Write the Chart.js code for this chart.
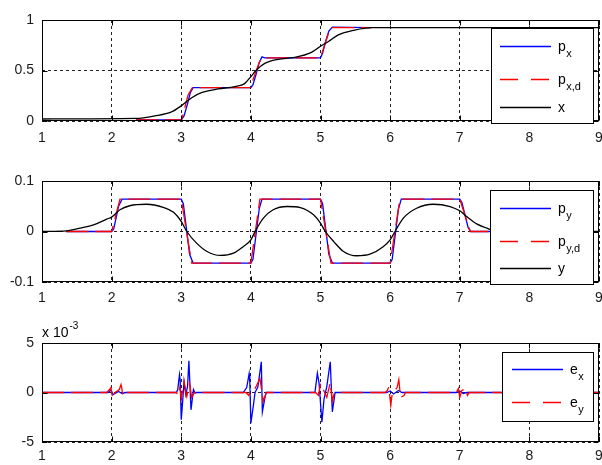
<!DOCTYPE html>
<html lang="en">
<head>
<meta charset="UTF-8">
<title>Position tracking</title>
<script src="https://cdn.jsdelivr.net/npm/chart.js"></script>
<style>
    body { margin: 0; background: #fff; }
    canvas { position: absolute; left: 0; }
</style>
</head>
<body>
<canvas id="chartX" width="602" height="155" style="top:0"></canvas>
<canvas id="chartY" width="602" height="155" style="top:155px"></canvas>
<canvas id="chartE" width="602" height="155" style="top:310px"></canvas>
<script>
// ---- top panel: x position ----
const pxT  = [2.35, 3.0, 3.04, 3.09, 3.13, 3.17, 4.0, 4.03, 4.07, 4.12, 4.16, 4.2, 5.0, 5.03, 5.07, 5.12, 5.17, 5.73];
const pxV  = [0.01, 0.01, 0.05, 0.17, 0.28, 0.33, 0.33, 0.36, 0.45, 0.58, 0.635, 0.625, 0.625, 0.67, 0.78, 0.89, 0.93, 0.925];
const pxdT = [2.35, 3.0, 3.02, 3.1, 3.16, 3.99, 4.01, 4.12, 4.16, 5.0, 5.02, 5.12, 5.16, 5.73];
const pxdV = [0.01, 0.01, 0.05, 0.26, 0.33, 0.33, 0.37, 0.58, 0.625, 0.625, 0.67, 0.88, 0.925, 0.925];
const xT   = [1, 2.35, 2.62, 2.86, 3.0, 3.15, 3.29, 3.53, 3.77, 3.91, 4.0, 4.08, 4.2, 4.39, 4.63, 4.87, 5.0, 5.11, 5.25, 5.49, 5.73, 6.2, 9];
const xV   = [0.02, 0.025, 0.05, 0.09, 0.15, 0.23, 0.28, 0.317, 0.34, 0.37, 0.44, 0.505, 0.57, 0.61, 0.63, 0.68, 0.74, 0.785, 0.85, 0.90, 0.924, 0.925, 0.925];

// ---- middle panel: y position ----
const pyT  = [1.35, 2.0, 2.03, 2.1, 2.15, 3.0, 3.03, 3.12, 3.17, 4.0, 4.03, 4.12, 4.16, 5.0, 5.03, 5.12, 5.17, 6.0, 6.03, 6.12, 6.16, 7.0, 7.03, 7.12, 7.16, 7.8];
const pyV  = [0, 0, 0.005, 0.05, 0.064, 0.064, 0.055, -0.045, -0.0625, -0.0625, -0.055, 0.045, 0.064, 0.064, 0.055, -0.045, -0.0625, -0.0625, -0.055, 0.045, 0.064, 0.064, 0.058, 0.008, 0, 0];
const pydT = [1.35, 2.0, 2.12, 3.0, 3.15, 4.0, 4.13, 5.0, 5.15, 6.0, 6.14, 7.0, 7.15, 7.8];
const pydV = [0, 0, 0.064, 0.064, -0.0625, -0.0625, 0.064, 0.064, -0.0625, -0.0625, 0.064, 0.064, 0, 0];
const yT   = [1, 1.35, 1.55, 1.74, 1.93, 2.0, 2.12, 2.26, 2.5, 2.74, 2.89, 3.0, 3.08, 3.22, 3.37, 3.56, 3.75, 3.89, 4.0, 4.06, 4.18, 4.32, 4.52, 4.71, 4.9, 5.0, 5.07, 5.19, 5.33, 5.52, 5.71, 5.9, 6.0, 6.07, 6.19, 6.38, 6.62, 6.86, 7.0, 7.1, 7.25, 7.39, 7.46, 7.8, 9];
const yV   = [0, 0.0013, 0.0067, 0.013, 0.0245, 0.0285, 0.043, 0.051, 0.054, 0.048, 0.038, 0.02, 0, -0.023, -0.0395, -0.0474, -0.043, -0.03, -0.0165, 0, 0.0265, 0.043, 0.0495, 0.0475, 0.033, 0.0165, 0, -0.02, -0.0395, -0.048, -0.045, -0.03, -0.0165, 0, 0.0265, 0.046, 0.054, 0.0495, 0.041, 0.0297, 0.0146, 0.0067, 0.003, 0.0005, 0];

// ---- bottom panel: tracking errors (units of 1e-3) ----
const exT = [1, 1.95, 1.99, 2.02, 2.1, 2.15, 2.2, 2.93, 2.95, 2.96, 2.975, 2.985, 3.0, 3.015, 3.04, 3.065, 3.09, 3.11, 3.14, 3.175, 3.2, 3.22,
             3.89, 3.94, 3.975, 3.985, 4.0, 4.04, 4.06, 4.1, 4.15, 4.165, 4.2, 4.22,
             4.92, 4.955, 4.98, 5.02, 5.05, 5.09, 5.14, 5.17, 5.21, 5.95, 6.0, 6.05, 6.12, 6.17, 6.95, 7.0, 7.05, 7.1, 9];
const exV = [0, 0, 0.25, -0.2, 0.1, -0.1, 0, 0, 0.3, 0.95, 1.8, 1.2, -2.75, -1.4, 1.1, -0.2, 0.6, 3.2, -1.75, 0.3, -0.07, 0,
             0, 0.5, 1.9, 1.0, -3.1, -1.1, 0, 0.55, 3.1, -1.95, -0.6, 0,
             0, 1.95, 0.9, -3.0, -0.7, 0.6, 3.1, -1.95, 0, 0, 0.15, -0.15, 0.2, 0, 0, 0.15, -0.1, 0, 0];
const eyT = [1, 1.93, 1.97, 1.99, 2.015, 2.05, 2.11, 2.135, 2.145, 2.16, 2.19, 2.93, 2.96, 2.98, 3.0, 3.04, 3.08, 3.12, 3.15, 3.19,
             3.93, 3.97, 4.0, 4.06, 4.13, 4.18, 4.22, 4.93, 4.97, 5.0, 5.04, 5.09, 5.14, 5.17, 5.2,
             5.93, 5.96, 5.98, 6.01, 6.03, 6.1, 6.125, 6.15, 6.2, 6.22, 6.95, 6.98, 7.0, 7.03, 7.09, 7.11, 7.14, 9];
const eyV = [0, 0, 0.3, 0.5, -0.6, 0, 0.3, 0.8, 0.5, -0.3, 0, 0, -0.3, 0.5, -0.6, 1.1, -0.4, 0.9, -0.5, 0,
             0, -0.3, 0.3, 0.4, 1.4, -0.9, 0, 0, -0.3, 0.9, 0.3, -0.5, 1.0, -0.9, 0,
             0, 0.2, 0.55, -1.3, -0.1, 0.5, 1.3, -0.5, -0.3, 0, 0, 0.4, -0.5, 0.2, 0.4, -0.3, 0, 0];

const xTicks = { min: 1, max: 9, step: 1 };
const FONT = 'Liberation Sans, Arial, sans-serif';
const BLUE = '#0000ff', RED = '#ff0000', BLACK = '#000000';

function zip(t, v) {
    return t.map((x, i) => ({ x: x, y: v[i] }));
}

// legend box drawn inside the plot, matlab style
const boxLegend = {
    id: 'boxLegend',
    afterDraw(chart, args, o) {
        const ctx = chart.ctx;
        ctx.save();
        ctx.fillStyle = '#fff';
        ctx.fillRect(o.left, o.top, o.right - o.left, o.bottom - o.top);
        ctx.strokeStyle = '#000';
        ctx.lineWidth = 1;
        ctx.strokeRect(o.left + 0.5, o.top + 0.5, o.right - o.left, o.bottom - o.top);
        chart.data.datasets.forEach((ds, i) => {
            const y = o.rows[i] + 0.5;
            ctx.strokeStyle = ds.borderColor;
            ctx.lineWidth = ds.borderWidth;
            ctx.setLineDash(ds.legendDash || []);
            ctx.beginPath();
            ctx.moveTo(o.x0, y);
            ctx.lineTo(o.x1, y);
            ctx.stroke();
            ctx.setLineDash([]);
            const parts = ds.label.split('_');
            ctx.fillStyle = '#000';
            ctx.font = '14px ' + FONT;
            ctx.fillText(parts[0], o.textX, y + 4);
            if (parts[1]) {
                const w = ctx.measureText(parts[0]).width;
                ctx.font = '11px ' + FONT;
                ctx.fillText(parts[1], o.textX + w + 0.5, y + 10);
            }
        });
        if (o.exponent) {
            ctx.font = '14px ' + FONT;
            ctx.fillText('x 10', o.exponent.x, o.exponent.y);
            const w = ctx.measureText('x 10').width;
            ctx.font = '10px ' + FONT;
            ctx.fillText('-3', o.exponent.x + w + 1, o.exponent.y - 8);
        }
        ctx.restore();
    }
};

// closed axes box with inward tick marks
const axesBox = {
    id: 'axesBox',
    afterDatasetsDraw(chart) {
        const { ctx, chartArea: a, scales } = chart;
        const L = Math.round(a.left) + 0.5, R = Math.round(a.right) - 0.5;
        const T = Math.round(a.top) + 0.5, B = Math.round(a.bottom) - 0.5;
        ctx.save();
        ctx.strokeStyle = '#000';
        ctx.lineWidth = 1;
        ctx.beginPath();
        scales.x.ticks.forEach(t => {
            const p = Math.round(scales.x.getPixelForValue(t.value)) + 0.5;
            ctx.moveTo(p, B); ctx.lineTo(p, B - 5);
            ctx.moveTo(p, T); ctx.lineTo(p, T + 5);
        });
        scales.y.ticks.forEach(t => {
            const p = Math.round(scales.y.getPixelForValue(t.value)) + 0.5;
            ctx.moveTo(L, p); ctx.lineTo(L + 5, p);
            ctx.moveTo(R, p); ctx.lineTo(R - 5, p);
        });
        ctx.stroke();
        ctx.strokeRect(L, T, R - L, B - T);
        ctx.restore();
    }
};

function makePanel(id, datasets, cfg) {
    const tickFont = { family: FONT, size: 14 };
    return new Chart(document.getElementById(id), {
        type: 'line',
        data: { datasets: datasets },
        plugins: [axesBox, boxLegend],
        options: {
            responsive: false,
            animation: false,
            events: [],
            layout: { autoPadding: false, padding: { left: 0, right: 3, top: cfg.top, bottom: 0 } },
            elements: { point: { radius: 0 } },
            plugins: {
                legend: { display: false },
                tooltip: { enabled: false },
                boxLegend: cfg.legend
            },
            scales: {
                x: {
                    type: 'linear',
                    min: xTicks.min, max: xTicks.max,
                    ticks: { stepSize: xTicks.step, padding: cfg.xPad, font: tickFont, color: '#1a1a1a', maxRotation: 0 },
                    grid: { color: '#222', lineWidth: 1, drawTicks: false },
                    border: { display: false, dash: [3, 3] },
                    afterFit: s => { s.height = cfg.axisH; s.paddingLeft = 0; s.paddingRight = 0; }
                },
                y: {
                    min: cfg.yMin, max: cfg.yMax,
                    ticks: {
                        stepSize: cfg.yStep, padding: 8, font: tickFont, color: '#1a1a1a',
                        callback: v => String(Number(v.toFixed(4)))
                    },
                    grid: { color: '#222', lineWidth: 1, drawTicks: false },
                    border: { display: false, dash: [3, 3] },
                    afterFit: s => { s.width = 42; s.paddingTop = 0; s.paddingBottom = 0; }
                }
            }
        }
    });
}

function series(label, t, v, color, extra) {
    return Object.assign({
        label: label,
        data: zip(t, v),
        borderColor: color,
        borderWidth: 1.3,
        fill: false,
        tension: 0
    }, extra || {});
}

const redDash = { borderDash: [22, 7], legendDash: [18, 13] };

makePanel('chartX', [
    series('p_x', pxT, pxV, BLUE, { order: 2 }),
    series('p_x,d', pxdT, pxdV, RED, Object.assign({ order: 1 }, redDash)),
    series('x', xT, xV, BLACK, { order: 0, cubicInterpolationMode: 'monotone' })
], {
    top: 20, axisH: 34, xPad: 9, yMin: 0, yMax: 1, yStep: 0.5,
    legend: { left: 491, right: 593, top: 28, bottom: 123, rows: [46, 79, 107], x0: 500, x1: 551, textX: 558 }
});

makePanel('chartY', [
    series('p_y', pyT, pyV, BLUE, { order: 2 }),
    series('p_y,d', pydT, pydV, RED, Object.assign({ order: 1 }, redDash)),
    series('y', yT, yV, BLACK, { order: 0, cubicInterpolationMode: 'monotone' })
], {
    top: 26, axisH: 28, xPad: 8, yMin: -0.1, yMax: 0.1, yStep: 0.1,
    legend: { left: 490, right: 593, top: 35, bottom: 129, rows: [53, 86, 113], x0: 500, x1: 551, textX: 558 }
});

makePanel('chartE', [
    series('e_x', exT, exV, BLUE, { order: 1 }),
    series('e_y', eyT, eyV, RED, Object.assign({ order: 0 }, redDash))
], {
    top: 33, axisH: 23, xPad: 6, yMin: -5, yMax: 5, yStep: 5,
    legend: { left: 502, right: 593, top: 42, bottom: 111, rows: [59, 92], x0: 512, x1: 563, textX: 570,
              exponent: { x: 42, y: 27 } }
});
</script>
</body>
</html>
